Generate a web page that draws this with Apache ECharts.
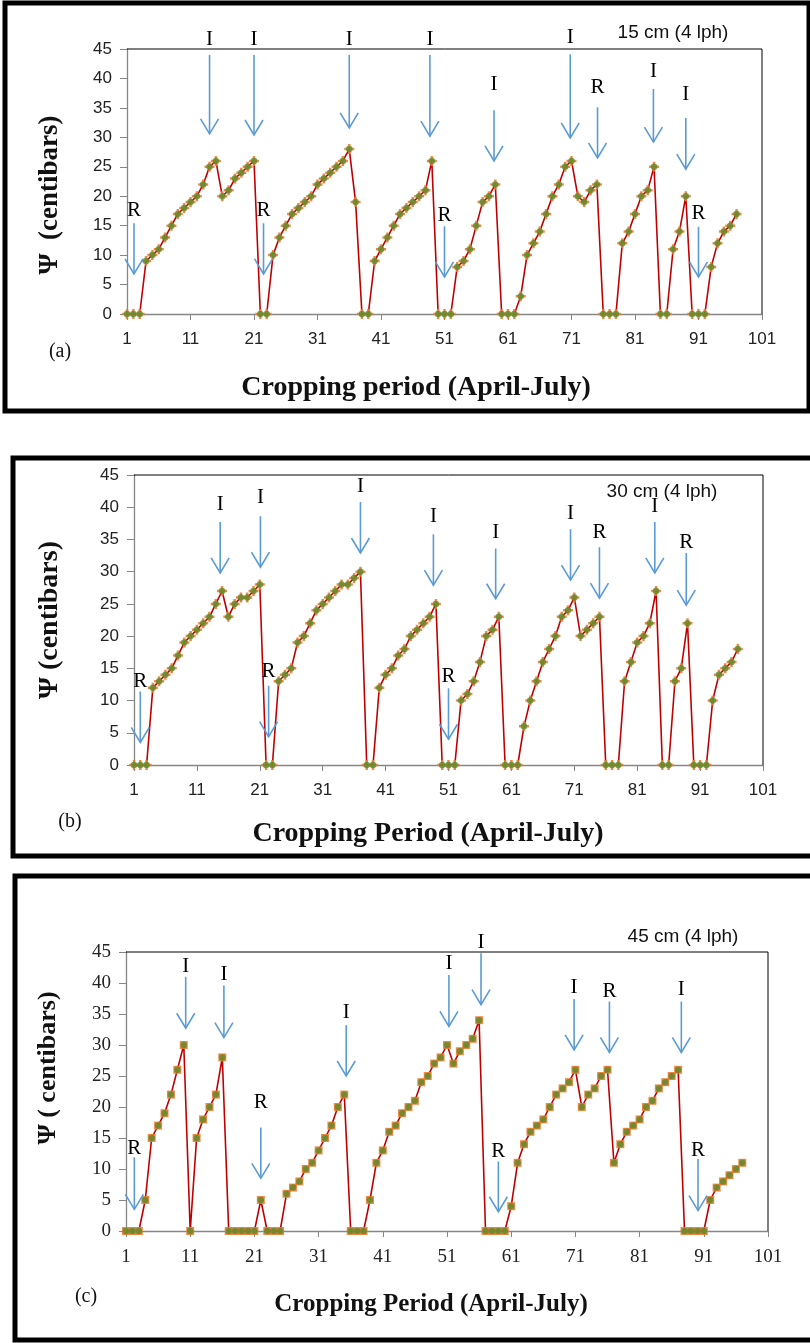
<!DOCTYPE html>
<html><head><meta charset="utf-8">
<script src="https://cdn.jsdelivr.net/npm/echarts@6/dist/echarts.min.js"></script>
<style>html,body{margin:0;padding:0;background:#fff}#c{width:810px;height:1343px}</style>
</head><body><div id="c"></div>
<script>
// ---- data ----
const xTickValues = [1, 11, 21, 31, 41, 51, 61, 71, 81, 91, 101];
const yTickValues = [0, 5, 10, 15, 20, 25, 30, 35, 40, 45];
const panelTitles = ['15 cm (4 lph)', '30 cm (4 lph)', '45 cm (4 lph)'];
const panelLetters = ['(a)', '(b)', '(c)'];
const xTitles = ['Cropping period (April-July)', 'Cropping Period (April-July)', 'Cropping Period (April-July)'];
const yTitles = ['\u03A8  (centibars)', '\u03A8 (centibars)', '\u03A8 ( centibars)'];

const psi15 = [0,0,0,9,10,11,13,15,17,18, 19,20,22,25,26,20,21,23,24,25, 26,0,0,10,13,15,17,18,19,20,
  22,23,24,25,26,28,19,0,0,9, 11,13,15,17,18,19,20,21,26,0, 0,0,8,9,11,15,19,20,22,0,
  0,0,3,10,12,14,17,20,22,25, 26,20,19,21,22,0,0,0,12,14, 17,20,21,25,0,0,11,14,20,0, 0,0,8,12,14,15,17];
const psi30 = [0,0,0,12,13,14,15,17,19,20, 21,22,23,25,27,23,25,26,26,27, 28,0,0,13,14,15,19,20,22,24,
  25,26,27,28,28,29,30,0,0,12, 14,15,17,18,20,21,22,23,25,0, 0,0,10,11,13,16,20,21,23,0,
  0,0,6,10,13,16,18,20,23,24, 26,20,21,22,23,0,0,0,13,16, 19,20,22,27,0,0,13,15,22,0, 0,0,10,14,15,16,18];
const psi45 = [0,0,0,5,15,17,19,22,26,30, 0,15,18,20,22,28,0,0,0,0, 0,5,0,0,0,6,7,8,10,11,
  13,15,17,20,22,0,0,0,5,11, 13,16,17,19,20,21,24,25,27,28, 30,27,29,30,31,34,0,0,0,0,
  4,11,14,16,17,18,20,22,23,24, 26,20,22,23,25,26,11,14,16,17, 18,20,21,23,24,25,26,0,0,0, 0,5,7,8,9,10,11];

// arrows: [day, arrow top value, arrow tip value, label, label value]
const arrows15 = [
  [2.1, 15.4, 6.8, 'R', 17.6], [14, 44, 30.6, 'I', 46.7], [21, 44, 30.4, 'I', 46.7],
  [22.5, 15.4, 6.8, 'R', 17.5], [36, 44, 31.6, 'I', 46.7], [48.7, 44, 30.2, 'I', 46.7],
  [51, 14.9, 6.3, 'R', 16.8], [58.8, 34.6, 26, 'I', 39], [70.8, 44.1, 29.9, 'I', 47],
  [75.1, 35.1, 26.5, 'R', 38.5], [83.9, 38.2, 29.2, 'I', 41.1], [89, 33.3, 24.6, 'I', 37.2],
  [91, 14.8, 6.3, 'R', 17]
];
const arrows30 = [
  [2, 11.4, 3.5, 'R', 12.9], [14.7, 37.7, 29.8, 'I', 40.4], [21.1, 38.6, 30.7, 'I', 41.5],
  [22.4, 12.3, 4.4, 'R', 14.5], [37, 40.8, 32.9, 'I', 43.2], [48.6, 35.8, 27.9, 'I', 38.5],
  [51, 11.9, 4, 'R', 13.7], [58.5, 33.6, 25.8, 'I', 36.1], [70.4, 36.6, 28.7, 'I', 39.1],
  [75, 33.8, 25.9, 'R', 36.1], [83.8, 37.7, 29.8, 'I', 40.1], [88.8, 32.9, 24.8, 'R', 34.5]
];
const arrows45 = [
  [2.3, 11.9, 3.5, 'R', 13.3], [10.3, 41, 32.7, 'I', 42.7], [16.25, 39.6, 31.2, 'I', 41.4],
  [22, 16.7, 8.5, 'R', 20.7], [35.3, 33.2, 25, 'I', 35.2], [51.3, 41.3, 33, 'I', 43.2],
  [56.3, 44.8, 36.5, 'I', 46.6], [59, 11.2, 3.1, 'R', 12.9], [70.8, 37.4, 29.2, 'I', 39.2],
  [76.3, 37, 28.8, 'R', 38.7], [87.5, 37, 28.8, 'I', 38.9], [90.1, 11.6, 3.3, 'R', 13]
];

// ---- chart ----
const chart = echarts.init(document.getElementById('c'), null, {renderer: 'canvas'});
const RED = '#c00000', ORANGE = '#ed7d31', GREEN = '#5a8a2c', BLUE = '#5b9bd5', AXIS = '#868686';
const PLUS = 'path://M3,0H5V3H8V5H5V8H3V5H0V3H3Z';

const grids = [
  {left: 127, top: 49, width: 635, height: 265},
  {left: 134, top: 475, width: 629, height: 290},
  {left: 126, top: 952, width: 642, height: 279}
];
const valueSets = [psi15, psi30, psi45];
const arrowSets = [arrows15, arrows30, arrows45];
const markerSets = [[PLUS, 10], [PLUS, 10], ['rect', 8]];
const tickFonts = [
  {fontFamily: 'Liberation Sans', fontSize: 17, color: '#222'},
  {fontFamily: 'Liberation Sans', fontSize: 17, color: '#222'},
  {fontFamily: 'Liberation Serif', fontSize: 19, color: '#222'}
];

function toPairs(vals) { return vals.map((v, i) => [i + 1, v]); }

const xAxes = grids.map((g, i) => ({
  gridIndex: i, type: 'value', min: 1, max: 101, interval: 10,
  axisLine: {lineStyle: {color: AXIS, width: 1.3}},
  axisTick: {show: true, length: 6, lineStyle: {color: AXIS}},
  axisLabel: Object.assign({margin: 17, formatter: v => xTickValues.includes(v) ? String(v) : ''}, tickFonts[i]),
  splitLine: {show: false}
}));
const yAxes = grids.map((g, i) => ({
  gridIndex: i, type: 'value', min: 0, max: 45, interval: 5,
  axisLine: {show: true, lineStyle: {color: AXIS, width: 1.3}},
  axisTick: {show: true, length: 7, lineStyle: {color: AXIS}},
  axisLabel: Object.assign({margin: 15, formatter: v => yTickValues.includes(v) ? String(v) : ''}, tickFonts[i]),
  splitLine: {show: false}
}));

const series = [];
valueSets.forEach((vals, i) => {
  const d = toPairs(vals);
  series.push({type: 'line', xAxisIndex: i, yAxisIndex: i, data: d, showSymbol: false, symbol: 'none',
    lineStyle: {color: RED, width: 1.6}, z: 2, animation: false});
  series.push({type: 'scatter', xAxisIndex: i, yAxisIndex: i, data: d, symbol: markerSets[i][0],
    symbolSize: markerSets[i][1], itemStyle: {color: ORANGE, opacity: 0.9}, z: 3, animation: false});
  series.push({type: 'scatter', xAxisIndex: i, yAxisIndex: i, data: d, symbol: 'circle',
    symbolSize: 6.5, itemStyle: {color: GREEN}, z: 4, animation: false});
  const arr = arrowSets[i];
  series.push({type: 'custom', xAxisIndex: i, yAxisIndex: i, clip: false, z: 5, animation: false,
    data: arr.map(a => [a[0], a[1], a[2], a[4]]),
    renderItem: function (params, api) {
      const a = arr[params.dataIndex];
      const pTop = api.coord([a[0], a[1]]);
      const pTip = api.coord([a[0], a[2]]);
      const pLab = api.coord([a[0], a[4]]);
      return {type: 'group', children: [
        {type: 'line', shape: {x1: pTop[0], y1: pTop[1], x2: pTip[0], y2: pTip[1]},
          style: {stroke: BLUE, lineWidth: 1.6}},
        {type: 'polyline', shape: {points: [[pTip[0] - 9, pTip[1] - 15], [pTip[0], pTip[1]], [pTip[0] + 9, pTip[1] - 15]]},
          style: {stroke: BLUE, lineWidth: 1.6, fill: null}},
        {type: 'text', style: {text: a[3], x: pLab[0], y: pLab[1], align: 'center', verticalAlign: 'middle',
          font: '21px "Liberation Serif"', fill: '#000'}}
      ]};
    }
  });
});

const graphic = [];
// panel frames
const frames = [[5, 3, 804, 408], [13, 458, 800, 398], [15, 876, 800, 464]];
frames.forEach(f => graphic.push({type: 'rect', shape: {x: f[0], y: f[1], width: f[2], height: f[3]},
  style: {fill: null, stroke: '#000', lineWidth: 5}, z: 10}));
// plot-area top/right borders
grids.forEach(g => graphic.push({type: 'polyline',
  shape: {points: [[g.left, g.top], [g.left + g.width, g.top], [g.left + g.width, g.top + g.height]]},
  style: {stroke: '#000', lineWidth: 1, fill: null}, z: 10}));
// panel titles
const titlePos = [[673, 33], [662, 492], [683, 937]];
panelTitles.forEach((t, i) => graphic.push({type: 'text', style: {text: t, x: titlePos[i][0], y: titlePos[i][1],
  align: 'center', verticalAlign: 'middle', font: '19px "Liberation Sans Narrow", "Liberation Sans"', fill: '#111'}}));
// letters
const letterPos = [[60, 352], [70, 822], [86, 1297]];
panelLetters.forEach((t, i) => graphic.push({type: 'text', style: {text: t, x: letterPos[i][0], y: letterPos[i][1],
  align: 'center', verticalAlign: 'middle', font: '20px "Liberation Serif"', fill: '#111'}}));
// x titles
const xtPos = [[416, 388], [428, 834], [431, 1305]];
const xtSize = [28, 28, 25];
xTitles.forEach((t, i) => graphic.push({type: 'text', style: {text: t, x: xtPos[i][0], y: xtPos[i][1],
  align: 'center', verticalAlign: 'middle', font: 'bold ' + xtSize[i] + 'px "Liberation Serif"', fill: '#111'}}));
// y titles
const ytPos = [[50, 195], [50, 620], [48, 1068]];
const ytSize = [27, 28, 26];
yTitles.forEach((t, i) => graphic.push({type: 'text', rotation: Math.PI / 2, x: ytPos[i][0], y: ytPos[i][1],
  style: {text: t, x: 0, y: 0, align: 'center', verticalAlign: 'middle', font: 'bold ' + ytSize[i] + 'px "Liberation Serif"', fill: '#111'}}));

chart.setOption({
  animation: false,
  backgroundColor: '#fff',
  grid: grids,
  xAxis: xAxes,
  yAxis: yAxes,
  series: series,
  graphic: graphic
});
</script></body></html>
